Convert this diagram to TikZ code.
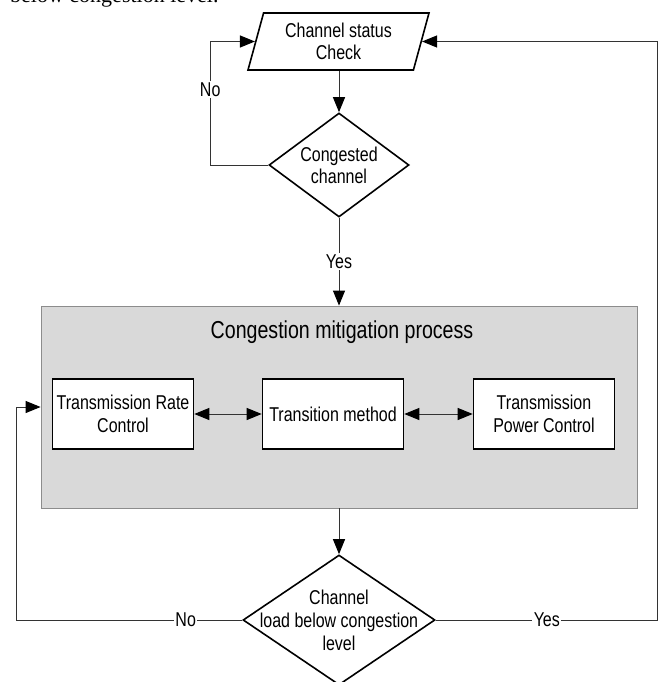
\documentclass[tikz,border=0pt]{standalone}
\usepackage{fontspec}
\setmainfont{Liberation Sans}[FakeStretch=0.8]
\newfontfamily\bodyserif{Liberation Serif}
\usetikzlibrary{shapes.geometric}
\usetikzlibrary{arrows.meta}
\tikzset{flow/.style={draw=black!80, line width=1pt}, tip/.style={-{Triangle[length=15pt,width=12pt,color=black]}}, dtip/.style={{Triangle[length=15pt,width=12pt,color=black]}-{Triangle[length=15pt,width=12pt,color=black]}}}
\tikzset{block/.style={draw=black, line width=1.6pt, fill=white, minimum width=141pt, minimum height=70pt, align=center, inner sep=2pt, font=\fontsize{20}{23}\selectfont}}
\tikzset{decision/.style={diamond, draw=black, line width=1.6pt, fill=white, inner sep=0pt}}
\tikzset{lab/.style={fill=white, inner sep=1.5pt, font=\fontsize{20}{23}\selectfont}}

\begin{document}
\begin{tikzpicture}[x=1pt, y=-1pt]
                \useasboundingbox (0,0) rectangle (660,682);
                \clip (0,0) rectangle (660,682);
                \node[anchor=base west, inner sep=0pt, font=\bodyserif\fontsize{22}{26}\selectfont] (pg) at (10,3) {below congestion level.};

                \node[trapezium, trapezium left angle=67, trapezium right angle=113, trapezium stretches body, draw=black, line width=1.6pt, fill=white, minimum width=181pt, minimum height=57pt, inner sep=0pt, align=center, font=\fontsize{20}{22}\selectfont] (chk) at (338.5,41.5) {Channel status\\Check};
                \node[decision, minimum width=140pt, minimum height=104pt] (cong) at (339,165) {};
                \node[align=center, font=\fontsize{20}{22}\selectfont] (congtxt) at (cong) {Congested\\channel};

                \node[draw=black!45, line width=0.8pt, fill=black!15, minimum width=596pt, minimum height=202pt, inner sep=0pt] (grp) at (339,407) {};
                \node[font=\fontsize{24.5}{28}\selectfont] (ttl) at (342,332) {Congestion mitigation process};
                \node[block] (trc) at (123,414) {Transmission Rate\\Control};
                \node[block] (tm) at (333,414) {Transition method};
                \node[block] (tpc) at (544,414) {Transmission\\Power Control};

                \node[decision, minimum width=192pt, minimum height=130pt] (load) at (339,620) {};
                \node[align=center, font=\fontsize{20}{23}\selectfont] (loadtxt) at (load) {Channel\\load below congestion\\level};

                % main line down
                \draw[flow, tip] (cong.north |- chk.south) -- (cong.north);
                \draw[flow, tip] (cong.south) -- node[lab] {Yes} (grp.north);
                \draw[flow, tip] (grp.south) -- (load.north);
                \draw[flow, dtip] (trc.east) -- (tm.west);
                \draw[flow, dtip] (tm.east) -- (tpc.west);

                % loops back
                \draw[flow, tip] (cong.west) -- ++(-58,0) coordinate (nl) -- node[lab, pos=0.61] {No} (nl |- chk.west) -- (chk.west);
                \draw[flow, tip] (load.west) -- node[lab, pos=0.25] {No} ++(-226,0) coordinate (bl) |- (grp.west);
                \draw[flow, tip] (load.east) -- node[lab] {Yes} ++(222,0) coordinate (br) |- (chk.east);
\end{tikzpicture}
\end{document}
